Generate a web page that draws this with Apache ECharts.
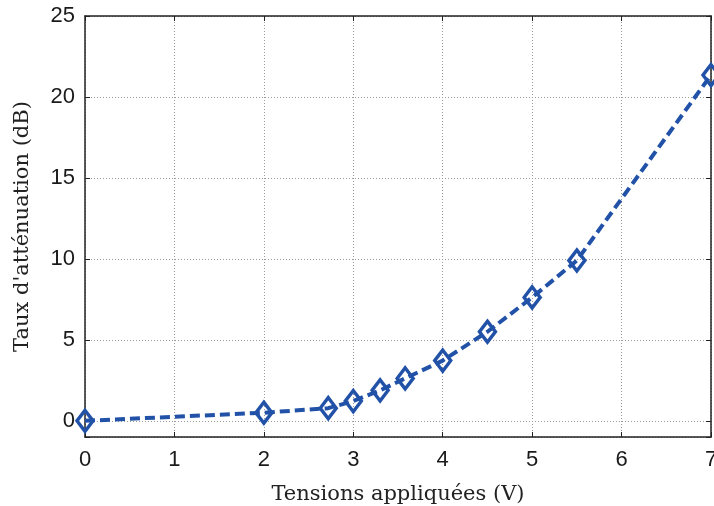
<!DOCTYPE html>
<html>
<head>
<meta charset="utf-8">
<script src="https://cdn.jsdelivr.net/npm/echarts@6/dist/echarts.min.js"></script>
<style>
  html, body { margin: 0; padding: 0; background: #fff; }
  #chart { width: 714px; height: 506px; }
</style>
</head>
<body>
<div id="chart"></div>
<script>
// tension (V) / atténuation (dB)
const tensions = [0, 2, 2.72, 3, 3.3, 3.58, 4, 4.5, 5, 5.5, 7]
const attenuation = [0, 0.5, 0.78, 1.22, 1.88, 2.62, 3.72, 5.5, 7.62, 9.9, 21.35]
const xTicks = [0, 1, 2, 3, 4, 5, 6, 7]
const yTicks = [0, 5, 10, 15, 20, 25]

const blue = '#2152a8'
const labelFont = { fontFamily: 'Liberation Sans, Arial', fontSize: 22, color: '#1a1a1a' }
const titleFont = { fontFamily: 'DejaVu Serif', fontSize: 21, color: '#222' }

var myChart = echarts.init(document.getElementById('chart'))

const gridLine = { show: true, lineStyle: { color: '#9a9a9a', type: [1, 2], width: 1 } }
const boxLine = { show: true, onZero: false, lineStyle: { color: '#222', width: 1.5 } }
const tick = { show: true, inside: true, length: 5, lineStyle: { color: '#222' } }

var option = {
    animation: false,
    grid: { left: 85, right: 3, top: 16, bottom: 69, outerBoundsMode: 'none' },
    xAxis: [
        {
            type: 'value',
            min: xTicks[0],
            max: xTicks[xTicks.length - 1],
            interval: 1,
            axisLine: boxLine,
            axisTick: tick,
            splitLine: gridLine,
            axisLabel: { ...labelFont, margin: 12 },
            name: 'Tensions appliquées (V)',
            nameLocation: 'middle',
            nameGap: 47,
            nameTextStyle: titleFont
        },
        {
            type: 'value',
            position: 'top',
            min: xTicks[0],
            max: xTicks[xTicks.length - 1],
            interval: 1,
            axisLine: boxLine,
            axisTick: tick,
            axisLabel: { show: false },
            splitLine: { show: false }
        }
    ],
    yAxis: [
        {
            type: 'value',
            min: -1,
            max: yTicks[yTicks.length - 1],
            axisLine: boxLine,
            axisTick: tick,
            splitLine: gridLine,
            axisLabel: {
                ...labelFont,
                margin: 10,
                formatter: v => yTicks.includes(v) ? String(v) : ''
            },
            name: "Taux d'atténuation (dB)",
            nameLocation: 'middle',
            nameGap: 52,
            nameTextStyle: titleFont
        },
        {
            type: 'value',
            position: 'right',
            min: -1,
            max: yTicks[yTicks.length - 1],
            axisLine: boxLine,
            axisTick: tick,
            axisLabel: { show: false },
            splitLine: { show: false }
        }
    ],
    series: [
        {
            type: 'line',
            data: tensions.map((t, i) => [t, attenuation[i]]),
            symbol: 'diamond',
            symbolSize: [16, 21],
            showAllSymbol: true,
            lineStyle: { color: blue, width: 4, type: [10, 5] },
            itemStyle: { color: 'rgba(255,255,255,0)', borderColor: blue, borderWidth: 3.5 },
            z: 5
        }
    ]
}
myChart.setOption(option)
</script>
</body>
</html>
